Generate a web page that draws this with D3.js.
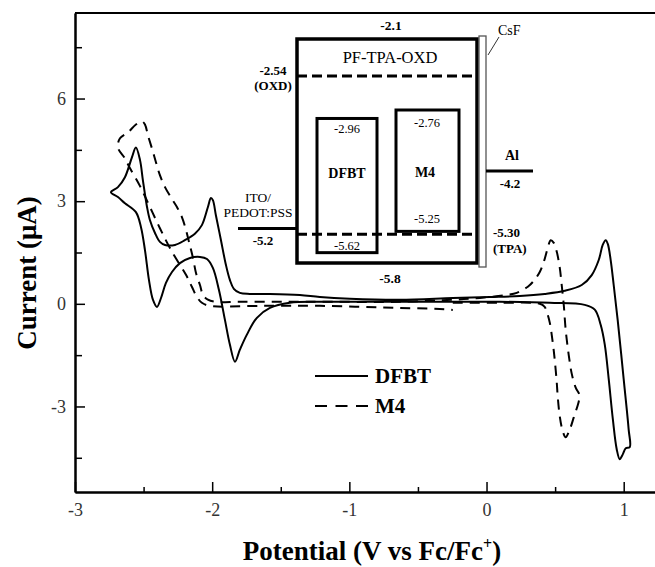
<!DOCTYPE html>
<html>
<head>
<meta charset="utf-8">
<script src="https://cdn.jsdelivr.net/npm/d3@7"></script>
<style>
  body { margin: 0; background: #fff; }
  svg text { font-family: "Liberation Serif", "Times New Roman", serif; }
</style>
</head>
<body>
<svg id="chart" width="655" height="567"></svg>
<script>
// cyclic voltammograms: [potential (V vs Fc/Fc+), current (uA)]
const dfbt = [
    [-0.246, 0.06], [0.097, 0.06], [0.461, 0.03], [0.716, -0.03], [0.789, -0.17],
    [0.832, -0.61], [0.862, -1.19], [0.891, -2.21], [0.921, -3.38], [0.949, -4.25],
    [0.971, -4.54], [0.993, -4.40], [1.015, -4.22], [1.044, -4.19], [1.036, -3.67],
    [1.000, -2.21], [0.956, -0.47], [0.927, 0.55], [0.905, 1.28], [0.884, 1.75],
    [0.869, 1.86], [0.847, 1.72], [0.818, 1.28], [0.767, 0.84], [0.694, 0.55],
    [0.570, 0.38], [0.424, 0.29], [0.242, 0.23], [0.024, 0.20], [-0.246, 0.17],
    [-0.632, 0.12], [-0.996, 0.15], [-1.215, 0.20], [-1.361, 0.26], [-1.579, 0.29],
    [-1.725, 0.29], [-1.798, 0.32], [-1.842, 0.44], [-1.871, 0.70], [-1.900, 1.14],
    [-1.936, 1.86], [-1.973, 2.59], [-1.995, 3.03], [-2.009, 3.09], [-2.031, 2.83],
    [-2.075, 2.30], [-2.126, 2.05], [-2.199, 1.86], [-2.271, 1.72], [-2.344, 1.72],
    [-2.381, 1.81], [-2.417, 2.07], [-2.454, 2.45], [-2.475, 2.83], [-2.505, 3.61],
    [-2.526, 4.20], [-2.556, 4.57], [-2.585, 4.28], [-2.636, 3.70], [-2.687, 3.41],
    [-2.738, 3.26], [-2.687, 3.12], [-2.636, 2.94], [-2.556, 2.68], [-2.519, 2.24],
    [-2.490, 1.57], [-2.461, 0.70], [-2.432, 0.12], [-2.403, -0.09], [-2.373, 0.17],
    [-2.337, 0.61], [-2.293, 0.93], [-2.235, 1.19], [-2.162, 1.34], [-2.089, 1.37],
    [-2.038, 1.31], [-1.995, 1.05], [-1.951, 0.41], [-1.907, -0.47], [-1.871, -1.19],
    [-1.834, -1.69], [-1.798, -1.34], [-1.747, -0.90], [-1.674, -0.41], [-1.579, -0.12],
    [-1.434, 0.03], [-1.215, 0.06], [-0.778, 0.06], [-0.246, 0.06]
];

const m4 = [
    [-0.246, 0.03], [0.097, 0.03], [0.388, 0.00], [0.424, -0.09], [0.439, -0.23],
    [0.461, -0.55], [0.483, -1.14], [0.497, -1.63], [0.512, -2.30], [0.519, -2.71],
    [0.534, -3.29], [0.556, -3.73], [0.577, -3.90], [0.607, -3.67], [0.636, -3.32],
    [0.672, -2.86], [0.679, -2.68], [0.650, -2.45], [0.621, -2.04], [0.599, -1.49],
    [0.577, -0.76], [0.563, -0.03], [0.548, 0.55], [0.534, 1.05], [0.512, 1.52],
    [0.490, 1.78], [0.468, 1.86], [0.446, 1.63], [0.417, 1.22], [0.388, 0.93],
    [0.344, 0.67], [0.301, 0.50], [0.220, 0.32], [0.148, 0.26], [0.024, 0.20],
    [-0.122, 0.15], [-0.246, 0.12], [-0.632, 0.06], [-1.142, 0.06], [-1.506, 0.06],
    [-1.798, 0.06], [-1.980, 0.06], [-2.031, 0.12], [-2.067, 0.26], [-2.089, 0.55],
    [-2.118, 0.90], [-2.140, 1.34], [-2.169, 1.81], [-2.191, 2.16], [-2.220, 2.53],
    [-2.257, 2.83], [-2.293, 3.06], [-2.344, 3.41], [-2.381, 3.76], [-2.410, 4.14],
    [-2.439, 4.54], [-2.468, 4.92], [-2.490, 5.24], [-2.512, 5.33], [-2.556, 5.24],
    [-2.614, 5.01], [-2.672, 4.84], [-2.687, 4.57], [-2.636, 4.25], [-2.599, 3.96],
    [-2.526, 3.44], [-2.454, 2.83], [-2.381, 2.21], [-2.293, 1.52], [-2.191, 0.85],
    [-2.148, 0.50], [-2.111, 0.20], [-2.075, 0.03], [-2.016, -0.06], [-1.652, -0.06],
    [-1.215, -0.06], [-0.632, -0.12], [-0.341, -0.15], [-0.246, -0.18]
];

const xMajor = [-3, -2, -1, 0, 1];
const xMinor = [-2.5, -1.5, -0.5, 0.5];
const yMajor = [-3, 0, 3, 6];
const yMinor = [-4.5, -1.5, 1.5, 4.5, 7.5];
const seriesNames = ["DFBT", "M4"];

// energy level inset (eV)
const layerNames = ["PF-TPA-OXD", "DFBT", "M4"];
const lumo = [-2.1, -2.96, -2.76];
const homo = [-5.8, -5.62, -5.25];
const groupNames = ["OXD", "TPA"];
const groupLevels = [-2.54, -5.30];
const electrodeNames = ["ITO/PEDOT:PSS", "Al"];
const workFn = [-5.2, -4.2];

const serif = "Liberation Serif, Times New Roman, serif"

let svg = d3.select("#chart")
let svgW = 655, svgH = 567
let plotLeft = 75, plotTop = 13, plotBottom = 492

svg.append("rect").attr("width", svgW).attr("height", svgH).attr("fill", "#fff")

let xscale = d3.scaleLinear()
    .domain([-3, 1.25])
    .range([plotLeft, 658])

let yscale = d3.scaleLinear()
    .domain([-5.5, 8.5])
    .range([plotBottom, plotTop])

let fmt = d => String(d)

// minor ticks first, then main axes
svg.append("g")
    .attr("transform", "translate(0," + plotBottom + ")")
    .call(d3.axisBottom(xscale).tickValues(xMinor).tickSizeInner(-5).tickSizeOuter(0).tickFormat(""))
svg.append("g")
    .attr("transform", "translate(" + plotLeft + ",0)")
    .call(d3.axisLeft(yscale).tickValues(yMinor).tickSizeInner(-7).tickSizeOuter(0).tickFormat(""))

svg.append("g")
    .attr("transform", "translate(0," + plotBottom + ")")
    .call(d3.axisBottom(xscale).tickValues(xMajor).tickSizeInner(-10).tickSizeOuter(0).tickPadding(11).tickFormat(fmt))

svg.append("g")
    .attr("transform", "translate(" + plotLeft + ",0)")
    .call(d3.axisLeft(yscale).tickValues(yMajor).tickSizeInner(-10).tickSizeOuter(0).tickPadding(9).tickFormat(fmt))

svg.selectAll(".domain").attr("stroke", "#000").attr("stroke-width", 2)
svg.selectAll(".tick line").attr("stroke", "#000").attr("stroke-width", 1.5)
svg.selectAll(".tick text")
    .attr("font-family", serif)
    .attr("font-size", 18)
    .attr("fill", "#333")

// top frame
svg.append("line")
    .attr("x1", plotLeft).attr("x2", svgW)
    .attr("y1", yscale(8.5)).attr("y2", yscale(8.5))
    .attr("stroke", "#000").attr("stroke-width", 2)

// curves
let line = d3.line()
    .x(d => xscale(d[0]))
    .y(d => yscale(d[1]))
    .curve(d3.curveCatmullRom.alpha(0.5))

svg.append("path").datum(dfbt)
    .attr("d", line)
    .attr("fill", "none").attr("stroke", "#000").attr("stroke-width", 2)

svg.append("path").datum(m4)
    .attr("d", line)
    .attr("fill", "none").attr("stroke", "#000").attr("stroke-width", 2)
    .attr("stroke-dasharray", "10,7")

// legend
let legend = svg.append("g")
seriesNames.forEach((name, i) => {
    let ly = 376 + i * 30
    legend.append("line")
        .attr("x1", 315).attr("x2", 368).attr("y1", ly).attr("y2", ly)
        .attr("stroke", "#000").attr("stroke-width", 2)
        .attr("stroke-dasharray", i == 0 ? null : "12,8.5")
    legend.append("text")
        .attr("x", 375).attr("y", ly + 7)
        .attr("font-family", serif)
        .attr("font-size", 21).attr("font-weight", "bold")
        .text(name)
})

// axis titles
svg.append("text")
    .attr("transform", "translate(36,273) rotate(-90)")
    .attr("text-anchor", "middle")
    .attr("font-family", serif)
    .attr("font-size", 27).attr("font-weight", "bold")
    .text("Current (\u03BCA)")

let xt = svg.append("text")
    .attr("x", 372).attr("y", 560)
    .attr("text-anchor", "middle")
    .attr("font-family", serif)
    .attr("font-size", 27).attr("font-weight", "bold")
xt.append("tspan").text("Potential (V vs Fc/Fc")
xt.append("tspan").attr("dy", -11).attr("font-size", 16).text("+")
xt.append("tspan").attr("dy", 11).text(")")

// ---- energy level diagram ----
// schematic (not to scale) energy axis
let ey = d3.scaleLinear()
    .domain([lumo[0], groupLevels[0], lumo[2], workFn[1], homo[0]])
    .range([39, 76, 110, 171, 263])

let inset = svg.append("g").attr("font-family", serif)
let boxX = [[297, 477], [317, 377], [396, 459]]
let boxW = [3.5, 3, 3]

let txt = (x, y, s, size, bold, anchor) => inset.append("text")
    .attr("x", x).attr("y", y)
    .attr("text-anchor", anchor || "middle")
    .attr("font-family", serif)
    .attr("font-size", size)
    .attr("font-weight", bold ? "bold" : "normal")
    .text(s)

layerNames.forEach((name, i) => {
    inset.append("rect")
        .attr("x", boxX[i][0]).attr("y", ey(lumo[i]))
        .attr("width", boxX[i][1] - boxX[i][0])
        .attr("height", ey(homo[i]) - ey(lumo[i]))
        .attr("fill", "none").attr("stroke", "#000").attr("stroke-width", boxW[i])
})

// OXD and TPA levels of the host
groupLevels.forEach(v => {
    inset.append("line")
        .attr("x1", 297).attr("x2", 477)
        .attr("y1", ey(v)).attr("y2", ey(v))
        .attr("stroke", "#000").attr("stroke-width", 3)
        .attr("stroke-dasharray", "10,5")
})

// CsF layer
inset.append("rect")
    .attr("x", 479).attr("y", 36).attr("width", 7).attr("height", 231)
    .attr("fill", "#fff").attr("stroke", "#555").attr("stroke-width", 1.3)
inset.append("line")
    .attr("x1", 488).attr("y1", 55).attr("x2", 499).attr("y2", 37)
    .attr("stroke", "#333").attr("stroke-width", 1)
txt(498, 35, "CsF", 14, false, "start")

// electrodes
inset.append("line")
    .attr("x1", 238).attr("x2", 297)
    .attr("y1", ey(workFn[0])).attr("y2", ey(workFn[0]))
    .attr("stroke", "#000").attr("stroke-width", 3)
inset.append("line")
    .attr("x1", 486).attr("x2", 533)
    .attr("y1", ey(workFn[1])).attr("y2", ey(workFn[1]))
    .attr("stroke", "#000").attr("stroke-width", 3)

// host labels
txt(391, 30, fmt(lumo[0]), 13.5, true)
txt(390, 63, layerNames[0], 16.5, false)
txt(390, 283, fmt(homo[0]), 13.5, true)
txt(273, 75, groupLevels[0].toFixed(2), 13, true)
txt(273, 90, "(" + groupNames[0] + ")", 13, true)
txt(493, 237, groupLevels[1].toFixed(2), 13, true, "start")
txt(493, 253, "(" + groupNames[1] + ")", 13, true, "start")

// emitter labels
txt(347, 133, fmt(lumo[1]), 12.5, false)
txt(347, 178, layerNames[1], 14, true)
txt(347, 250, fmt(homo[1]), 12.5, false)
txt(427, 127, fmt(lumo[2]), 12.5, false)
txt(425, 177, layerNames[2], 14, true)
txt(427, 223, fmt(homo[2]), 12.5, false)

// electrode labels
txt(258, 202, "ITO/", 13.5, false)
txt(258, 217, "PEDOT:PSS", 13.5, false)
txt(263, 245, fmt(workFn[0]), 13, true)
txt(512, 160, electrodeNames[1], 14, true)
txt(510, 188, fmt(workFn[1]), 13, true)
</script>
</body>
</html>
